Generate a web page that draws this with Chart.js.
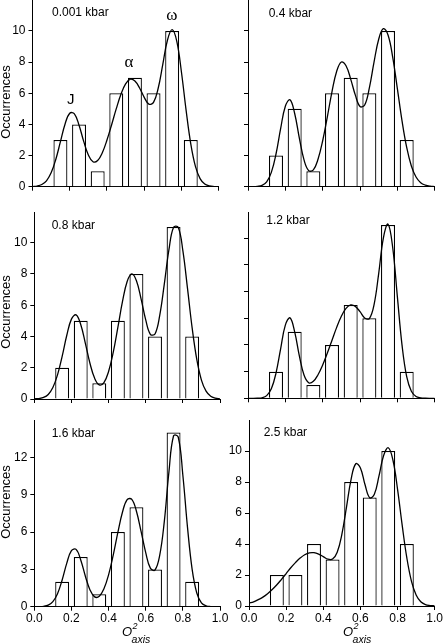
<!DOCTYPE html>
<html><head><meta charset="utf-8">
<script src="https://cdn.jsdelivr.net/npm/chart.js@4.4.1/dist/chart.umd.min.js"></script>
<style>
html,body{margin:0;padding:0;background:#fff;}
#wrap{position:relative;width:443px;height:644px;overflow:hidden;background:#fff;}
canvas{position:absolute;}
</style></head><body><div id="wrap"></div>
<script>
// ---- data ----
const binCenters = [0.15, 0.25, 0.35, 0.45, 0.55, 0.65, 0.75, 0.85];
const counts_0_001 = [3, 4, 1, 6, 7, 6, 10, 3];
const counts_0_4   = [2, 5, 1, 6, 7, 6, 10, 3];
const counts_0_8   = [2, 5, 1, 5, 8, 4, 11, 4];
const counts_1_2   = [2, 5, 1, 4, 7, 6, 13, 2];
const counts_1_6   = [2, 4, 1, 6, 8, 3, 14, 2];
const counts_2_5   = [2, 2, 4, 3, 8, 7, 10, 4];

const fitX = [0,0.025,0.05,0.075,0.1,0.125,0.15,0.175,0.2,0.225,0.25,0.275,0.3,0.325,0.35,0.375,0.4,0.425,0.45,0.475,0.5,0.525,0.55,0.575,0.6,0.625,0.65,0.675,0.7,0.725,0.75,0.775,0.8,0.825,0.85,0.875,0.9,0.925,0.95,0.975,1.0];
const fit_0_001 = [0.01,0.04,0.14,0.38,0.89,1.75,2.89,4.03,4.72,4.68,3.95,2.91,2.04,1.60,1.68,2.18,3.00,3.98,5.01,5.93,6.60,6.90,6.79,6.34,5.74,5.30,5.41,6.32,7.87,9.42,10.08,9.33,7.35,4.90,2.75,1.30,0.52,0.17,0.05,0.01,0.00];
const fit_0_4   = [0.00,0.00,0.02,0.08,0.31,0.92,2.10,3.74,5.17,5.58,4.70,3.12,1.72,1.03,1.08,1.76,2.95,4.49,6.11,7.41,8.01,7.77,6.91,5.88,5.15,5.25,6.35,8.00,9.47,10.15,9.74,8.32,6.30,4.23,2.52,1.33,0.62,0.26,0.10,0.03,0.01];
const fit_0_8   = [0.01,0.03,0.10,0.29,0.73,1.54,2.73,4.08,5.11,5.38,4.77,3.56,2.27,1.32,0.90,1.05,1.76,2.98,4.58,6.24,7.52,8.01,7.57,6.41,5.06,4.14,4.16,5.32,7.35,9.55,10.98,10.98,9.49,7.08,4.55,2.53,1.21,0.50,0.18,0.06,0.01];
const fit_1_2   = [0.00,0.00,0.01,0.04,0.20,0.71,1.89,3.73,5.49,6.03,4.98,3.18,1.75,1.17,1.27,1.77,2.50,3.39,4.36,5.32,6.15,6.74,7.00,6.89,6.50,6.03,5.98,7.01,9.35,12.02,13.06,11.31,7.63,3.99,1.62,0.53,0.14,0.04,0.01,0.00,0.00];
const fit_1_6   = [0.00,0.01,0.03,0.13,0.41,1.05,2.15,3.50,4.51,4.61,3.76,2.45,1.35,0.79,0.84,1.44,2.56,4.15,5.97,7.61,8.61,8.63,7.67,6.05,4.35,3.10,2.95,4.10,6.84,10.84,13.74,13.64,10.57,6.38,3.00,1.10,0.31,0.07,0.01,0.00,0.00];
const fit_2_5   = [0.18,0.27,0.41,0.57,0.79,1.06,1.37,1.72,2.09,2.47,2.80,3.09,3.31,3.43,3.44,3.35,3.19,3.02,3.03,3.47,4.62,6.38,8.19,9.18,8.91,7.82,6.99,7.21,8.39,9.71,10.21,9.42,7.53,5.20,3.10,1.59,0.71,0.27,0.09,0.03,0.01];

const pressureLabels = ['0.001 kbar', '0.4 kbar', '0.8 kbar', '1.2 kbar', '1.6 kbar', '2.5 kbar'];
const peakLabels = ['J', '\u03B1', '\u03C9'];
const yTitle = 'Occurrences';

// ---- layout (page pixel geometry) ----
const panels = [
  {label: pressureLabels[0], counts: counts_0_001, fit: fit_0_001, yMax: 11.95, yStep: 2, yLabels: true,  xLabels: false,
   cv: {x: 0,   y: 0,   w: 232, h: 200}, area: {l: 32.5, t: 0.6,   r: 218.7, b: 186.7}, lab: [52, 16],     ytitle: [10, 102], peaks: true},
  {label: pressureLabels[1], counts: counts_0_4,   fit: fit_0_4,   yMax: 11.95, yStep: 2, yLabels: false, xLabels: false,
   cv: {x: 222, y: 0,   w: 221, h: 200}, area: {l: 248,  t: 0.6,   r: 434.7, b: 186.7}, lab: [268.7, 16.7]},
  {label: pressureLabels[2], counts: counts_0_8,   fit: fit_0_8,   yMax: 11.95, yStep: 2, yLabels: true,  xLabels: false,
   cv: {x: 0,   y: 200, w: 232, h: 210}, area: {l: 34.3, t: 212.2, r: 220,   b: 399},   lab: [51.7, 229.3], ytitle: [10, 312]},
  {label: pressureLabels[3], counts: counts_1_2,   fit: fit_1_2,   yMax: 13.95, yStep: 2, yLabels: false, xLabels: false,
   cv: {x: 222, y: 200, w: 221, h: 210}, area: {l: 248,  t: 212.3, r: 434.7, b: 398.3}, lab: [266.3, 224]},
  {label: pressureLabels[4], counts: counts_1_6,   fit: fit_1_6,   yMax: 14.95, yStep: 3, yLabels: true,  xLabels: true,
   cv: {x: 0,   y: 410, w: 232, h: 234}, area: {l: 34.3, t: 420.7, r: 220,   b: 606.7}, lab: [51.7, 436.7], ytitle: [10, 502], xtitle: [122, 636]},
  {label: pressureLabels[5], counts: counts_2_5,   fit: fit_2_5,   yMax: 11.95, yStep: 2, yLabels: true,  xLabels: true,
   cv: {x: 222, y: 410, w: 221, h: 234}, area: {l: 249,  t: 420.8, r: 434.7, b: 606},   lab: [263.7, 436],  xtitle: [343, 636]}
];

const FONT = '"Liberation Sans", Arial, sans-serif';
const wrap = document.getElementById('wrap');

panels.forEach((p, idx) => {
  const cv = document.createElement('canvas');
  cv.width = p.cv.w; cv.height = p.cv.h;
  cv.style.left = p.cv.x + 'px'; cv.style.top = p.cv.y + 'px';
  cv.style.width = p.cv.w + 'px'; cv.style.height = p.cv.h + 'px';
  wrap.appendChild(cv);
  const ox = p.cv.x, oy = p.cv.y;
  const yAxisW = p.area.l - ox;
  const padTop = p.area.t - oy;
  const padRight = p.cv.w - (p.area.r - ox);
  const xAxisH = p.cv.h - (p.area.b - oy);

  const textPlugin = {
    id: 'panelText' + idx,
    afterDraw(chart) {
      const ctx = chart.ctx;
      ctx.save();
      ctx.fillStyle = '#000';
      ctx.textAlign = 'left';
      ctx.textBaseline = 'alphabetic';
      ctx.font = '12px ' + FONT;
      ctx.fillText(p.label, p.lab[0] - ox, p.lab[1] - oy);
      if (p.ytitle) {
        ctx.save();
        ctx.translate(p.ytitle[0] - ox, p.ytitle[1] - oy);
        ctx.rotate(-Math.PI / 2);
        ctx.textAlign = 'center';
        ctx.font = '13px ' + FONT;
        ctx.fillText(yTitle, 0, 0);
        ctx.restore();
      }
      if (p.xtitle) {
        const x0 = p.xtitle[0] - ox, y0 = p.xtitle[1] - oy;
        ctx.font = 'italic 13px ' + FONT;
        ctx.fillText('O', x0, y0);
        const w = ctx.measureText('O').width;
        ctx.font = 'italic 9px ' + FONT;
        ctx.fillText('2', x0 + w + 0.5, y0 - 7);
        ctx.font = 'italic 10.5px ' + FONT;
        ctx.fillText('axis', x0 + w - 0.5, y0 + 6.5);
      }
      if (p.peaks) {
        const xs = chart.scales.x, ys = chart.scales.y;
        ctx.textAlign = 'center';
        ctx.font = '15px ' + FONT;
        ctx.fillText(peakLabels[0], xs.getPixelForValue(0.206), ys.getPixelForValue(5.3));
        ctx.font = '17px "Liberation Serif", serif';
        ctx.fillText(peakLabels[1], xs.getPixelForValue(0.518), ys.getPixelForValue(7.7));
        ctx.fillText(peakLabels[2], xs.getPixelForValue(0.749), ys.getPixelForValue(10.7));
      }
      ctx.restore();
    }
  };

  new Chart(cv, {
    type: 'bar',
    data: {
      datasets: [
        {type: 'line', data: fitX.map((x, i) => ({x: x, y: p.fit[i]})), borderColor: '#000', borderWidth: 1.3,
         pointRadius: 0, tension: 0.4, fill: false, order: 0},
        {type: 'bar', data: binCenters.map((x, i) => ({x: x, y: p.counts[i]})), backgroundColor: '#fff',
         borderColor: '#000', borderWidth: 1.25, barPercentage: 0.75, categoryPercentage: 1, order: 1}
      ]
    },
    options: {
      responsive: false, animation: false, events: [],
      layout: {padding: {left: 0, top: padTop, right: padRight, bottom: 0}},
      plugins: {legend: {display: false}, tooltip: {enabled: false}},
      scales: {
        x: {
          type: 'linear', min: 0, max: 1, offset: false,
          grid: {offset: false, drawOnChartArea: false, drawTicks: true, tickLength: 4, color: '#000', lineWidth: 1},
          border: {display: true, color: '#000', width: 1},
          ticks: {display: p.xLabels, stepSize: 0.2, autoSkip: false, maxRotation: 0, padding: 1, color: '#000',
                  font: {family: FONT, size: 12}, callback: v => Number(v).toFixed(1)},
          afterFit: s => { s.height = xAxisH; s.paddingLeft = 0; s.paddingRight = 0; }
        },
        y: {
          type: 'linear', min: 0, max: p.yMax,
          grid: {drawOnChartArea: false, drawTicks: true, tickLength: 4, color: '#000', lineWidth: 1},
          border: {display: true, color: '#000', width: 1},
          ticks: {display: p.yLabels, stepSize: p.yStep, includeBounds: false, padding: 3, color: '#000',
                  font: {family: FONT, size: 12}},
          afterFit: s => { s.width = yAxisW; s.paddingTop = 0; s.paddingBottom = 0; }
        }
      }
    },
    plugins: [textPlugin]
  });
});
</script>
</body></html>
